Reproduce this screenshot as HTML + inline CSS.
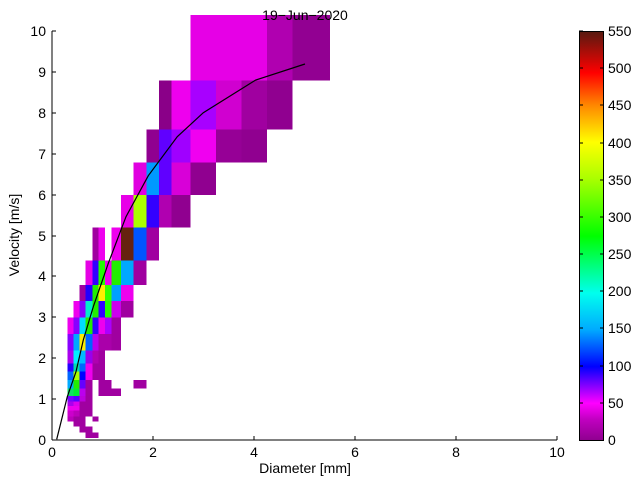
<!DOCTYPE html>
<html><head><style>body{margin:0;background:#fff}svg{display:block}text{font-family:"Liberation Sans",sans-serif;font-size:14px}</style></head><body>
<svg width="640" height="480" xmlns="http://www.w3.org/2000/svg">
<defs><linearGradient id="cb" x1="0" y1="1" x2="0" y2="0">
<stop offset="0" stop-color="#900090"/><stop offset="0.05" stop-color="#c000c0"/><stop offset="0.09" stop-color="#ff00ff"/>
<stop offset="0.18" stop-color="#0000ff"/><stop offset="0.27" stop-color="#00aaff"/><stop offset="0.36" stop-color="#00ffee"/>
<stop offset="0.5" stop-color="#00ff00"/><stop offset="0.64" stop-color="#aaff00"/><stop offset="0.73" stop-color="#ffff00"/>
<stop offset="0.82" stop-color="#ff8800"/><stop offset="0.9" stop-color="#ff0000"/><stop offset="1" stop-color="#5a1a10"/>
</linearGradient></defs>
<g shape-rendering="crispEdges">
<rect x="190.7" y="15" width="76.3" height="65.7" fill="#e600e6"/>
<rect x="267" y="15" width="25.7" height="65.7" fill="#b000b0"/>
<rect x="292.7" y="15" width="37.3" height="65.7" fill="#920092"/>
<rect x="159" y="80.7" width="12.7" height="48.6" fill="#8a0088"/>
<rect x="171.7" y="80.7" width="19" height="48.6" fill="#ee00ee"/>
<rect x="190.7" y="80.7" width="25.3" height="48.6" fill="#a800ff"/>
<rect x="216" y="80.7" width="25.7" height="48.6" fill="#d000d0"/>
<rect x="241.7" y="80.7" width="25.3" height="48.6" fill="#a000a0"/>
<rect x="267" y="80.7" width="25.7" height="48.6" fill="#900090"/>
<rect x="146.7" y="129.3" width="12.3" height="33" fill="#900090"/>
<rect x="159" y="129.3" width="12.7" height="33" fill="#6000ff"/>
<rect x="171.7" y="129.3" width="19" height="33" fill="#a000ff"/>
<rect x="190.7" y="129.3" width="25.3" height="33" fill="#f000f0"/>
<rect x="216" y="129.3" width="25.7" height="33" fill="#960096"/>
<rect x="241.7" y="129.3" width="25.3" height="33" fill="#900090"/>
<rect x="133.3" y="162.3" width="13.4" height="32.7" fill="#e000e0"/>
<rect x="146.7" y="162.3" width="12.3" height="32.7" fill="#0099ff"/>
<rect x="159" y="162.3" width="12.7" height="32.7" fill="#6000ff"/>
<rect x="171.7" y="162.3" width="19" height="32.7" fill="#d800d8"/>
<rect x="190.7" y="162.3" width="25.3" height="32.7" fill="#900090"/>
<rect x="121" y="195" width="12.3" height="32.7" fill="#e800e8"/>
<rect x="133.3" y="195" width="13.4" height="32.7" fill="#aaff00"/>
<rect x="146.7" y="195" width="12.3" height="32.7" fill="#3300ff"/>
<rect x="159" y="195" width="12.7" height="32.7" fill="#b000b0"/>
<rect x="171.7" y="195" width="19" height="32.7" fill="#900090"/>
<rect x="92.3" y="227.7" width="6" height="33" fill="#a000a0"/>
<rect x="98.3" y="227.7" width="6.7" height="33" fill="#ee00ee"/>
<rect x="111.7" y="227.7" width="9.3" height="33" fill="#ee00ee"/>
<rect x="121" y="227.7" width="12.3" height="33" fill="#66220f"/>
<rect x="133.3" y="227.7" width="13.4" height="33" fill="#0055ff"/>
<rect x="146.7" y="227.7" width="12.3" height="33" fill="#a000a0"/>
<!-- y 260.7-285 -->
<rect x="85.7" y="260.7" width="6.6" height="24.3" fill="#e600e6"/>
<rect x="92.3" y="260.7" width="6" height="24.3" fill="#3300ff"/>
<rect x="98.3" y="260.7" width="6.7" height="24.3" fill="#22ff00"/>
<rect x="105" y="260.7" width="6.7" height="24.3" fill="#ee00ee"/>
<rect x="111.7" y="260.7" width="9.3" height="24.3" fill="#22ee00"/>
<rect x="121" y="260.7" width="12.3" height="24.3" fill="#00a8ff"/>
<rect x="133.3" y="260.7" width="13.4" height="24.3" fill="#a000a0"/>
<!-- 285-301 -->
<rect x="79.3" y="285" width="6.4" height="16" fill="#a000a0"/>
<rect x="85.7" y="285" width="6.6" height="16" fill="#2200ff"/>
<rect x="92.3" y="285" width="6" height="16" fill="#22ee00"/>
<rect x="98.3" y="285" width="6.7" height="16" fill="#ffee00"/>
<rect x="105" y="285" width="6.7" height="16" fill="#33ff00"/>
<rect x="111.7" y="285" width="9.3" height="16" fill="#00a0ff"/>
<rect x="121" y="285" width="12.3" height="16" fill="#ee00ee"/>
<!-- 301-317.3 -->
<rect x="73.3" y="301" width="6" height="16.3" fill="#ee00ee"/>
<rect x="79.3" y="301" width="6.4" height="16.3" fill="#8800ff"/>
<rect x="85.7" y="301" width="6.6" height="16.3" fill="#00eecc"/>
<rect x="92.3" y="301" width="6" height="16.3" fill="#22ee00"/>
<rect x="98.3" y="301" width="6.7" height="16.3" fill="#3300ff"/>
<rect x="105" y="301" width="6.7" height="16.3" fill="#22ff00"/>
<rect x="111.7" y="301" width="9.3" height="16.3" fill="#cc00ee"/>
<rect x="121" y="301" width="12.3" height="16.3" fill="#a000a0"/>
<!-- 317.3-334 -->
<rect x="67.3" y="317.3" width="6" height="16.7" fill="#ee00ee"/>
<rect x="73.3" y="317.3" width="6" height="16.7" fill="#8800ff"/>
<rect x="79.3" y="317.3" width="6.4" height="16.7" fill="#00ddff"/>
<rect x="85.7" y="317.3" width="6.6" height="16.7" fill="#22ee00"/>
<rect x="92.3" y="317.3" width="6" height="16.7" fill="#3300ff"/>
<rect x="98.3" y="317.3" width="6.7" height="16.7" fill="#ee00ee"/>
<rect x="105" y="317.3" width="6.7" height="16.7" fill="#aa00ff"/>
<rect x="111.7" y="317.3" width="9.3" height="16.7" fill="#a000a0"/>
<!-- 334-350.7 -->
<rect x="67.3" y="334" width="6" height="16.7" fill="#8800ff"/>
<rect x="73.3" y="334" width="6" height="16.7" fill="#00aaff"/>
<rect x="79.3" y="334" width="6.4" height="16.7" fill="#ffee00"/>
<rect x="85.7" y="334" width="6.6" height="16.7" fill="#0066ff"/>
<rect x="92.3" y="334" width="6" height="16.7" fill="#bb00ee"/>
<rect x="98.3" y="334" width="13.4" height="16.7" fill="#aa00aa"/>
<rect x="111.7" y="334" width="9.3" height="16.7" fill="#a000a0"/>
<!-- 350.7-363.3 -->
<rect x="67.3" y="350.7" width="6" height="12.6" fill="#aa00ee"/>
<rect x="73.3" y="350.7" width="6" height="12.6" fill="#00eeff"/>
<rect x="79.3" y="350.7" width="6.4" height="12.6" fill="#00bbff"/>
<rect x="85.7" y="350.7" width="6.6" height="12.6" fill="#9900ee"/>
<rect x="92.3" y="350.7" width="6" height="12.6" fill="#b000b0"/>
<rect x="98.3" y="350.7" width="6.7" height="12.6" fill="#a000a0"/>
<!-- 363.3-371.7 -->
<rect x="67.3" y="363.3" width="6" height="8.4" fill="#2200ff"/>
<rect x="73.3" y="363.3" width="6" height="8.4" fill="#00ddaa"/>
<rect x="79.3" y="363.3" width="6.4" height="8.4" fill="#0066ff"/>
<rect x="85.7" y="363.3" width="6.6" height="8.4" fill="#ee00ee"/>
<rect x="92.3" y="363.3" width="12.7" height="8.4" fill="#a000a0"/>
<!-- 371.7-380 -->
<rect x="67.3" y="371.7" width="6" height="8.3" fill="#0066ff"/>
<rect x="73.3" y="371.7" width="6" height="8.3" fill="#aaff00"/>
<rect x="79.3" y="371.7" width="6.4" height="8.3" fill="#0000ff"/>
<rect x="85.7" y="371.7" width="6.6" height="8.3" fill="#ee00ee"/>
<rect x="92.3" y="371.7" width="12.7" height="8.3" fill="#a000a0"/>
<!-- 380-388.3 -->
<rect x="67.3" y="380" width="6" height="8.3" fill="#00aaff"/>
<rect x="73.3" y="380" width="6" height="8.3" fill="#22ee00"/>
<rect x="79.3" y="380" width="6.4" height="8.3" fill="#6600ff"/>
<rect x="85.7" y="380" width="6.6" height="8.3" fill="#a000a0"/>
<rect x="98.3" y="380" width="13.4" height="8.3" fill="#a000a0"/>
<rect x="133.3" y="380" width="13.4" height="8.3" fill="#a000a0"/>
<!-- 388.3-396 -->
<rect x="67.3" y="388.3" width="6" height="7.7" fill="#11dd66"/>
<rect x="73.3" y="388.3" width="6" height="7.7" fill="#00ee33"/>
<rect x="79.3" y="388.3" width="6.4" height="7.7" fill="#bb00ee"/>
<rect x="85.7" y="388.3" width="6.6" height="7.7" fill="#a000a0"/>
<rect x="98.3" y="388.3" width="22.7" height="7.7" fill="#a000a0"/>
<!-- lower -->
<rect x="67.3" y="396" width="6" height="5.7" fill="#7700ff"/>
<rect x="73.3" y="396" width="6" height="5.7" fill="#5500ff"/>
<rect x="79.3" y="396" width="6.4" height="5.7" fill="#bb00dd"/>
<rect x="85.7" y="396" width="6.6" height="5.7" fill="#a000a0"/>
<rect x="67.3" y="401.7" width="6" height="4.3" fill="#aa00ee"/>
<rect x="73.3" y="401.7" width="6" height="4.3" fill="#dd00ee"/>
<rect x="79.3" y="401.7" width="13" height="4.3" fill="#a000a0"/>
<rect x="67.3" y="406" width="12" height="4.7" fill="#ee00ee"/>
<rect x="79.3" y="406" width="13" height="4.7" fill="#a000a0"/>
<rect x="67.3" y="410.7" width="6" height="6" fill="#cc00cc"/>
<rect x="73.3" y="410.7" width="6" height="6" fill="#bb00bb"/>
<rect x="79.3" y="410.7" width="13" height="6" fill="#a000a0"/>
<rect x="67.3" y="416.7" width="6" height="5" fill="#bb00bb"/>
<rect x="73.3" y="416.7" width="12.4" height="5" fill="#a000a0"/>
<rect x="92.3" y="416.7" width="6" height="5" fill="#a000a0"/>
<rect x="73.3" y="421.7" width="12.4" height="5" fill="#a000a0"/>
<rect x="79.3" y="426.7" width="13" height="6" fill="#a000a0"/>
<rect x="85.7" y="432.7" width="12.6" height="5.3" fill="#a000a0"/>
</g>
<polyline fill="none" stroke="#000" stroke-width="1.2" points="56.7,439.3 67.3,396.7 76,371.7 83.3,340 93.3,306.7 108.3,263.3 126,216.7 148.3,175.7 177.3,136.7 203.3,112.7 255.7,80 305,64"/>
<!-- axes -->
<g stroke="#000" fill="none" shape-rendering="crispEdges">
<line x1="52" y1="31" x2="52" y2="440"/><line x1="52" y1="440" x2="557" y2="440"/>
<path d="M153,440v-4M254,440v-4M355,440v-4M456,440v-4M557,440v-4"/>
<path d="M52,399h4M52,358h4M52,317h4M52,276h4M52,236h4M52,195h4M52,154h4M52,113h4M52,72h4M52,31h4"/>
<rect x="579.5" y="31.5" width="24" height="409"/>
</g>
<rect x="580" y="32" width="23" height="408" fill="url(#cb)"/>
<g stroke="#000" shape-rendering="crispEdges">
<path d="M579,403h4M579,366h4M579,328h4M579,291h4M579,254h4M579,217h4M579,180h4M579,143h4M579,105h4M579,68h4M579,31h4"/>
<path d="M604,403h-4M604,366h-4M604,328h-4M604,291h-4M604,254h-4M604,217h-4M604,180h-4M604,143h-4M604,105h-4M604,68h-4"/>
</g>
<g text-anchor="end">
<text x="46" y="445">0</text><text x="46" y="404">1</text><text x="46" y="363">2</text><text x="46" y="322">3</text><text x="46" y="281">4</text><text x="46" y="241">5</text><text x="46" y="200">6</text><text x="46" y="159">7</text><text x="46" y="118">8</text><text x="46" y="77">9</text><text x="46" y="36">10</text>
</g>
<g text-anchor="middle">
<text x="52" y="457">0</text><text x="153" y="457">2</text><text x="254" y="457">4</text><text x="355" y="457">6</text><text x="456" y="457">8</text><text x="557" y="457">10</text>
<text x="305" y="473">Diameter [mm]</text>
<text x="305" y="20">19−Jun−2020</text>
<text transform="translate(19,235) rotate(-90)">Velocity [m/s]</text>
</g>
<g>
<text x="608" y="445">0</text><text x="608" y="408">50</text><text x="608" y="371">100</text><text x="608" y="333">150</text><text x="608" y="296">200</text><text x="608" y="259">250</text><text x="608" y="222">300</text><text x="608" y="185">350</text><text x="608" y="148">400</text><text x="608" y="110">450</text><text x="608" y="73">500</text><text x="608" y="36">550</text>
</g>
</svg>
</body></html>
